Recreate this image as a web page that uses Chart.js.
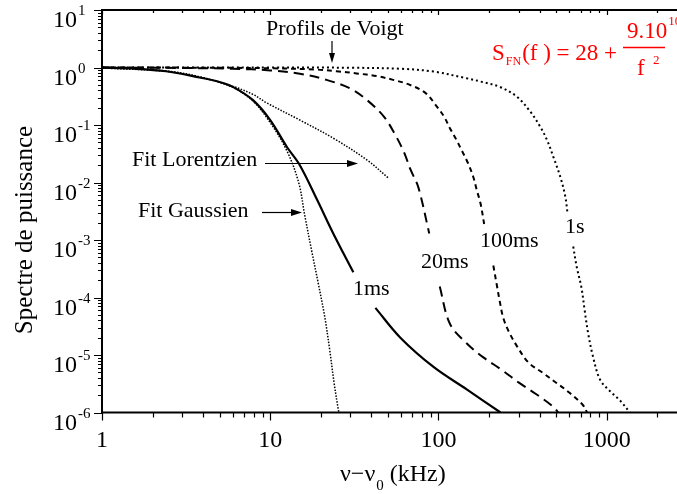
<!DOCTYPE html>
<html><head><meta charset="utf-8">
<script src="https://cdn.jsdelivr.net/npm/chart.js@4.4.1/dist/chart.umd.min.js"></script>
<style>html,body{margin:0;padding:0;background:#fff;}canvas{display:block;}</style>
</head><body>
<canvas id="c" width="677" height="494"></canvas>
<script>
// ---- axis ticks ----
const xMajorTicks = [1, 10, 100, 1000];
const xTickLabels = ['1', '10', '100', '1000'];
const yDecades = [-6, -5, -4, -3, -2, -1, 0, 1];

// ---- series: 1ms (solid) ----
const x1ms = [1, 1.5, 2.4, 3.8, 5, 6, 7.9, 10, 12.6, 15, 19, 23.7, 31.2, 36, 42.2, 59.4, 93.5, 148, 234];
const y1ms = [1.0, 0.96, 0.86, 0.67, 0.56, 0.46, 0.27, 0.122, 0.041, 0.02, 0.005, 0.0013, 2.75e-4, null, 6.6e-5, 2e-5, 6.2e-6, 2.5e-6, 1e-6];
// ---- Gaussian fit ----
const xGauss = [1, 2.4, 3.8, 6, 7.9, 10, 12.6, 14.8, 16, 17.6, 19.3, 21.1, 22.6, 24, 25.3, 25.6];
const yGauss = [1.0, 0.87, 0.69, 0.45, 0.26, 0.11, 0.035, 0.0097, 0.0028, 6.7e-4, 1.77e-4, 4.6e-5, 1.2e-5, 3.2e-6, 1.2e-6, 1e-6];
// ---- Lorentzian fit ----
const xLor = [1, 2.4, 3.8, 6, 7.9, 9.6, 15, 23.7, 37.7, 50.3];
const yLor = [0.98, 0.86, 0.68, 0.47, 0.34, 0.24, 0.122, 0.059, 0.0245, 0.012];
// ---- 20ms ----
const x20ms = [1, 3, 6, 10, 15, 21.6, 30, 37.7, 47.4, 55, 62.3, 68.4, 75.9, 88.2, 95, 101.8, 117, 147, 185, 238, 301, 380, 482, 515];
const y20ms = [1.0, 0.98, 0.95, 0.89, 0.78, 0.61, 0.43, 0.27, 0.14, 0.07, 0.034, 0.0165, 0.0083, 0.0013, null, 1.55e-4, 3.5e-5, 1.6e-5, 9.1e-6, 5.5e-6, 3.3e-6, 2.1e-6, 1.26e-6, 1e-6];
// ---- 100ms ----
const x100ms = [1, 5, 10, 19, 24.8, 32.6, 42.8, 53.8, 67.6, 84.3, 96.6, 108, 117, 128, 137, 150, 161, 169, 178, 187, 200, 212, 222, 232, 243, 263, 294, 343, 417, 501, 602, 722, 765];
const y100ms = [1.0, 0.99, 0.97, 0.92, 0.86, 0.79, 0.71, 0.61, 0.5, 0.355, 0.22, 0.14, 0.088, 0.055, 0.037, 0.0216, 0.0126, 0.0074, 0.0043, 0.0019, null, 3.6e-4, 1.7e-4, 8.3e-5, 4.4e-5, 2.5e-5, 1.4e-5, 7.4e-6, 4.9e-6, 3.3e-6, 2.2e-6, 1.35e-6, 1e-6];
// ---- 1s ----
const x1s = [1, 10, 30, 60, 93.5, 147, 178, 232, 293, 352, 403, 442, 482, 530, 568, 584, 610, 633, 664, 708, 739, 776, 829, 915, 1055, 1205, 1375];
const y1s = [1.0, 1.0, 0.99, 0.95, 0.85, 0.65, 0.57, 0.46, 0.31, 0.17, 0.093, 0.055, 0.028, 0.0126, 0.0057, 0.0031, null, 7.7e-4, 3.4e-4, 1.5e-4, 6.2e-5, 2.4e-5, 9.5e-6, 3.7e-6, 2.3e-6, 1.6e-6, 1e-6];

const pts = (xs, ys) => xs.map((x, i) => ({x: x, y: ys[i]}));
const serif = '"Liberation Serif", "Times New Roman", serif';

function arrow(ctx, x1, y1, x2, y2, len, hw) {
  const ang = Math.atan2(y2 - y1, x2 - x1);
  const bx = x2 - len * Math.cos(ang), by = y2 - len * Math.sin(ang);
  ctx.beginPath(); ctx.moveTo(x1, y1); ctx.lineTo(bx, by); ctx.stroke();
  ctx.beginPath();
  ctx.moveTo(x2, y2);
  ctx.lineTo(bx + hw * Math.sin(ang), by - hw * Math.cos(ang));
  ctx.lineTo(bx - hw * Math.sin(ang), by + hw * Math.cos(ang));
  ctx.closePath(); ctx.fill();
}

const furniture = {
  id: 'furniture',
  afterDraw(chart) {
    const ctx = chart.ctx, xs = chart.scales.x, ys = chart.scales.y, a = chart.chartArea;
    ctx.save();
    ctx.strokeStyle = '#000'; ctx.fillStyle = '#000';
    // frame
    ctx.lineWidth = 2;
    ctx.beginPath();
    ctx.moveTo(a.left - 1, a.top); ctx.lineTo(a.right, a.top);
    ctx.moveTo(a.left, a.top); ctx.lineTo(a.left, a.bottom + 1);
    ctx.moveTo(a.left - 1, a.bottom); ctx.lineTo(a.right, a.bottom);
    ctx.stroke();
    // ticks
    ctx.lineWidth = 1.2;
    ctx.beginPath();
    yDecades.forEach(e => {
      const ty = Math.round(ys.getPixelForValue(Math.pow(10, e))) + 0.5;
      ctx.moveTo(a.left - 8, ty); ctx.lineTo(a.left, ty);
      if (e < 1) for (let k = 2; k <= 9; k++) {
        const my = Math.round(ys.getPixelForValue(k * Math.pow(10, e))) + 0.5;
        ctx.moveTo(a.left - 4, my); ctx.lineTo(a.left, my);
      }
    });
    for (let d = 1; d <= 1000; d *= 10) {
      const tx = Math.round(xs.getPixelForValue(d)) + 0.5;
      ctx.moveTo(tx, a.bottom); ctx.lineTo(tx, a.bottom + 8);
      ctx.moveTo(tx, a.top); ctx.lineTo(tx, a.top + 5);
      for (let k = 2; k <= 9; k++) {
        const v = k * d;
        if (v > xs.max) break;
        const mx = Math.round(xs.getPixelForValue(v)) + 0.5;
        ctx.moveTo(mx, a.bottom); ctx.lineTo(mx, a.bottom + 5);
        ctx.moveTo(mx, a.top); ctx.lineTo(mx, a.top + 3);
      }
    }
    ctx.stroke();
    // y tick labels 10^n
    yDecades.forEach(e => {
      const ty = ys.getPixelForValue(Math.pow(10, e));
      ctx.font = '24px ' + serif; ctx.textAlign = 'left'; ctx.textBaseline = 'alphabetic';
      ctx.fillText('10', 53, ty + 17);
      const w = ctx.measureText('10').width;
      ctx.font = '15px ' + serif;
      ctx.fillText(String(e), 53 + w + 1, ty + 5);
    });
    // x tick labels
    ctx.font = '24px ' + serif; ctx.textAlign = 'center';
    xMajorTicks.forEach((v, i) => ctx.fillText(xTickLabels[i], xs.getPixelForValue(v), 447));
    // axis titles
    ctx.save();
    ctx.translate(25, 230); ctx.rotate(-Math.PI / 2);
    ctx.font = '25px ' + serif; ctx.textAlign = 'center'; ctx.textBaseline = 'middle';
    ctx.fillText('Spectre de puissance', 0, 0);
    ctx.restore();
    ctx.textAlign = 'left'; ctx.textBaseline = 'alphabetic';
    ctx.font = '24px ' + serif;
    let xx = 340;
    ctx.fillText('ν−ν', xx, 481); xx += ctx.measureText('ν−ν').width + 1;
    ctx.font = '15px ' + serif; ctx.fillText('0', xx, 490); xx += ctx.measureText('0').width + 6;
    ctx.font = '24px ' + serif; ctx.fillText('(kHz)', xx, 481);
    // annotations
    ctx.font = '22px ' + serif;
    ctx.fillText('Profils de Voigt', 266, 35);
    ctx.fillText('Fit Lorentzien', 132, 166);
    ctx.fillText('Fit Gaussien', 138, 217);
    ctx.fillText('1ms', 353, 295);
    ctx.fillText('20ms', 421, 268);
    ctx.fillText('100ms', 480, 247);
    ctx.fillText('1s', 565, 233);
    ctx.lineWidth = 1.2;
    arrow(ctx, 332, 41, 332, 63, 10, 3);
    arrow(ctx, 265, 163.5, 358, 163.5, 11, 3.5);
    arrow(ctx, 262, 212.5, 302, 212.5, 11, 3.5);
    // formula (red)
    ctx.fillStyle = '#ff0000'; ctx.strokeStyle = '#ff0000';
    ctx.font = '23px ' + serif;
    ctx.fillText('S', 492, 60);
    let fx = 492 + ctx.measureText('S').width + 1;
    ctx.font = '12px ' + serif; ctx.fillText('FN', fx, 65); fx += ctx.measureText('FN').width + 1;
    ctx.font = '23px ' + serif; ctx.fillText('(f ) = 28 +', fx, 60);
    ctx.lineWidth = 1.6;
    ctx.beginPath(); ctx.moveTo(623, 47.5); ctx.lineTo(665, 47.5); ctx.stroke();
    ctx.fillText('9.10', 627, 38);
    const nw = ctx.measureText('9.10').width;
    ctx.fillText('f', 637, 75);
    ctx.font = '13px ' + serif;
    ctx.fillText('10', 627 + nw + 1, 25);
    ctx.fillText('2', 653, 64);
    ctx.restore();
  }
};

const common = {pointRadius: 0, borderColor: '#000', fill: false, spanGaps: false, tension: 0.35};
new Chart(document.getElementById('c'), {
  type: 'line',
  data: {
    datasets: [
      Object.assign({label: '1s', data: pts(x1s, y1s), borderWidth: 2, borderDash: [2, 3]}, common),
      Object.assign({label: '100ms', data: pts(x100ms, y100ms), borderWidth: 2, borderDash: [5, 4]}, common),
      Object.assign({label: '20ms', data: pts(x20ms, y20ms), borderWidth: 2, borderDash: [10, 6]}, common),
      Object.assign({label: 'Fit Lorentzien', data: pts(xLor, yLor), borderWidth: 1.5, borderDash: [1.5, 1.5]}, common),
      Object.assign({label: 'Fit Gaussien', data: pts(xGauss, yGauss), borderWidth: 1.5, borderDash: [1.5, 1.5]}, common),
      Object.assign({label: '1ms', data: pts(x1ms, y1ms), borderWidth: 2.2}, common)
    ]
  },
  options: {
    responsive: false, animation: false, devicePixelRatio: 1,
    layout: {padding: {left: 102, top: 10, right: 0, bottom: 81.5}},
    plugins: {legend: {display: false}, tooltip: {enabled: false}},
    scales: {
      x: {type: 'logarithmic', min: 1, max: 2620, display: false},
      y: {type: 'logarithmic', min: 1e-6, max: 10, display: false}
    }
  },
  plugins: [furniture]
});
</script>
</body></html>
